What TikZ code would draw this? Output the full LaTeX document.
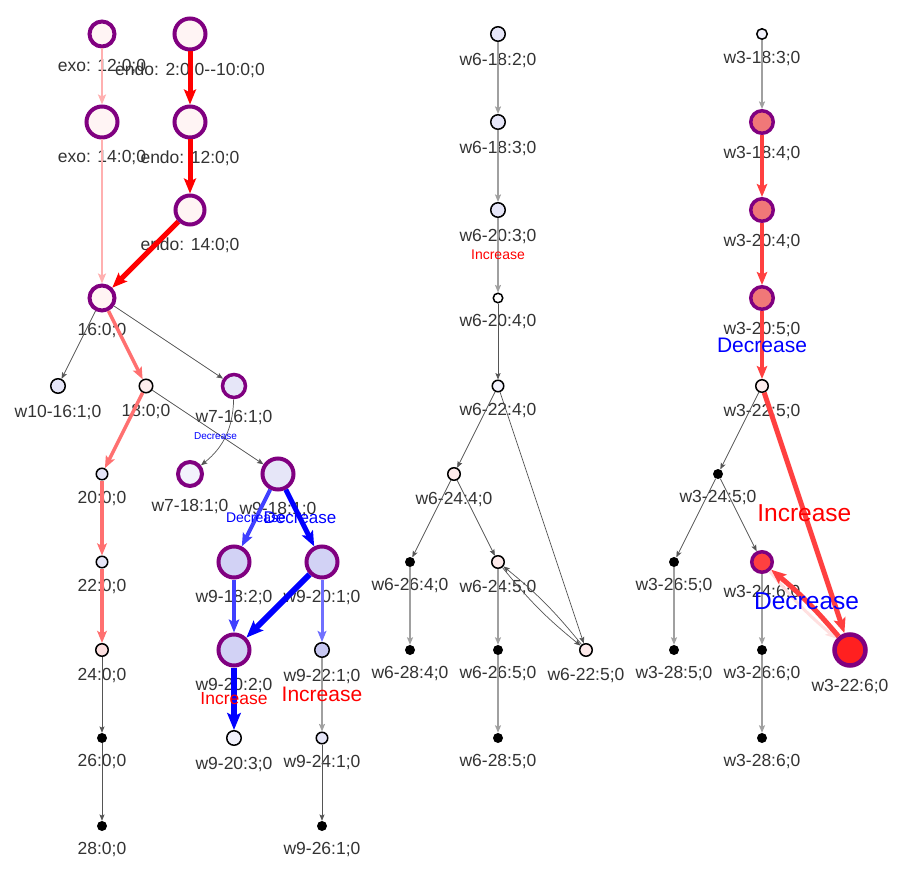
\documentclass[tikz,border=0pt]{standalone}
\usepackage{fontspec}
\setmainfont{Liberation Sans}
\usetikzlibrary{arrows.meta}
\definecolor{hubpurple}{HTML}{800080}
\definecolor{labelgray}{HTML}{333333}
\definecolor{linkgray}{HTML}{555555}
\definecolor{palegray}{HTML}{A0A0A0}
\definecolor{exopink}{HTML}{FFB0B0}
\definecolor{endored}{HTML}{FF0000}
\definecolor{trailred}{HTML}{FF7070}
\definecolor{wred}{HTML}{FF4040}
\definecolor{wfaint}{HTML}{FFE0E0}
\definecolor{blueA}{HTML}{0000FF}
\definecolor{blueB}{HTML}{4040FF}
\definecolor{blueC}{HTML}{7070FF}
\definecolor{pk0}{HTML}{FFF4F4}
\definecolor{pk1}{HTML}{FDEEEE}
\definecolor{pk2}{HTML}{FDE0E0}
\definecolor{pk3}{HTML}{FDEAEA}
\definecolor{lav0}{HTML}{F2F2FC}
\definecolor{lav1}{HTML}{E6E6F8}
\definecolor{lav2}{HTML}{D2D2F5}
\definecolor{lav3}{HTML}{C8C8F2}
\definecolor{salmon}{HTML}{F07878}
\definecolor{hotred}{HTML}{FF2020}
\tikzset{
  hub/.style={circle, draw=hubpurple, line width=4pt, inner sep=0pt, minimum size=#1},
  hub/.default=25pt,
  dot/.style={circle, draw=black, line width=1.5pt, inner sep=0pt, minimum size=#1},
  dot/.default=12pt,
  leaf/.style={circle, fill=black, inner sep=0pt, minimum size=10pt},
  link/.style={draw=linkgray, line width=0.7pt},
  palelink/.style={draw=palegray, line width=1.3pt},
  flow/.style 2 args={draw=#1, line width=#2},
  incr/.style={text=red, font=\fontsize{#1}{#1}\selectfont, inner sep=0pt},
  decr/.style={text=blue, font=\fontsize{#1}{#1}\selectfont, inner sep=0pt},
  every label/.style={text=labelgray, font=\fontsize{17.5pt}{20pt}\selectfont, inner sep=2pt},
}

\begin{document}
\begin{tikzpicture}[x=44pt, y=-88pt, ->, >={Stealth[length=5pt 2, width=4pt 1.6, inset=1pt 0.4]}, label distance=9pt]
    \useasboundingbox (-58pt,34pt) rectangle (842pt,-846pt);

    % exo / endo lineage
    \node[hub=25pt, fill=pk0, label={below:{exo: 12:0;0}}] (exoA) at (1,0) {};
    \node[hub=31pt, fill=pk0, label={below:{endo: 2:0;0-{}-10:0;0}}] (endoA) at (3,0) {};
    \node[hub=31pt, fill=pk0, label={below:{exo: 14:0;0}}] (exoB) at (1,1) {};
    \node[hub=31pt, fill=pk0, label={below:{endo: 12:0;0}}] (endoB) at (3,1) {};
    \node[hub=29pt, fill=pk0, label={below:{endo: 14:0;0}}] (endoC) at (3,2) {};
    \node[hub=25pt, fill=pk0, label={below:{16:0;0}}] (s16) at (1,3) {};
    \node[dot=14.5pt, fill=lav1, label={below:{w10-16:1;0}}] (w10a) at (0,4) {};
    \node[dot=13.5pt, fill=pk1, label={below:{18:0;0}}] (s18) at (2,4) {};
    \node[hub=23pt, line width=3.5pt, fill=lav1, label={below:{w7-16:1;0}}] (w7a) at (4,4) {};
    \node[dot=11.5pt, fill=lav1, label={below:{20:0;0}}] (s20) at (1,5) {};
    \node[hub=24pt, fill=lav0, label={below:{w7-18:1;0}}] (w7b) at (3,5) {};
    \node[hub=31pt, fill=lav1, label={below:{w9-18:1;0}}] (w9a) at (5,5) {};
    \node[dot=11.5pt, fill=lav1, label={below:{22:0;0}}] (s22) at (1,6) {};
    \node[hub=31pt, fill=lav2, label={below:{w9-18:2;0}}] (w9b) at (4,6) {};
    \node[hub=31pt, fill=lav2, label={below:{w9-20:1;0}}] (w9c) at (6,6) {};
    \node[dot=12.5pt, fill=pk2, label={below:{24:0;0}}] (s24) at (1,7) {};
    \node[hub=31pt, fill=lav2, label={below:{w9-20:2;0}}] (w9d) at (4,7) {};
    \node[dot=14.5pt, fill=lav3, label={below:{w9-22:1;0}}] (w9e) at (6,7) {};
    \node[leaf, label={below:{26:0;0}}] (s26) at (1,8) {};
    \node[dot=14.5pt, fill=lav0, label={below:{w9-20:3;0}}] (w9f) at (4,8) {};
    \node[dot=11.5pt, fill=lav1, label={below:{w9-24:1;0}}] (w9g) at (6,8) {};
    \node[leaf, label={below:{28:0;0}}] (s28) at (1,9) {};
    \node[leaf, label={below:{w9-26:1;0}}] (w9h) at (6,9) {};

    \draw[flow={exopink}{2.5pt}] (exoA) -- (exoB);
    \draw[flow={exopink}{2.5pt}] (exoB) -- (s16);
    \draw[flow={endored}{5pt}] (endoA) -- (endoB);
    \draw[flow={endored}{5pt}] (endoB) -- (endoC);
    \draw[flow={endored}{5pt}] (endoC) -- (s16);
    \draw[link] (s16) -- (w10a);
    \draw[link] (s16) -- (w7a);
    \draw[flow={trailred}{3.5pt}] (s16) -- (s18);
    \draw[flow={trailred}{3.5pt}] (s18) -- (s20);
    \draw[flow={trailred}{3.5pt}] (s20) -- (s22);
    \draw[flow={trailred}{3.5pt}] (s22) -- (s24);
    \draw[link] (s24) -- (s26);
    \draw[link] (s26) -- (s28);
    \draw[link] (s18) -- (w9a);
    \draw[link] (w7a) to[bend left=25] node[decr=10pt, xshift=-10pt] {Decrease} (w7b);
    \draw[flow={blueB}{4pt}] (w9a) -- node[decr=14pt] {Decrease} (w9b);
    \draw[flow={blueA}{5pt}] (w9a) -- node[decr=17pt] {Decrease} (w9c);
    \draw[flow={blueB}{4pt}] (w9b) -- (w9d);
    \draw[flow={blueA}{6pt}] (w9c) -- (w9d);
    \draw[flow={blueC}{3pt}] (w9c) -- (w9e);
    \draw[flow={blueA}{6pt}] (w9d) -- node[incr=17.5pt] {Increase} (w9f);
    \draw[palelink] (w9e) -- node[incr=21pt] {Increase} (w9g);
    \draw[link] (w9g) -- (w9h);

    % w6 lineage
    \node[dot=14.5pt, fill=lav1, label={below:{w6-18:2;0}}] (w6a) at (10,0) {};
    \node[dot=14.5pt, fill=lav1, label={below:{w6-18:3;0}}] (w6b) at (10,1) {};
    \node[dot=14.5pt, fill=lav1, label={below:{w6-20:3;0}}] (w6c) at (10,2) {};
    \node[dot=9.5pt, fill=white, label={below:{w6-20:4;0}}] (w6d) at (10,3) {};
    \node[dot=11.5pt, fill=lav0, label={below:{w6-22:4;0}}] (w6e) at (10,4) {};
    \node[dot=12.5pt, fill=pk3, label={below:{w6-24:4;0}}] (w6f) at (9,5) {};
    \node[leaf, label={below:{w6-26:4;0}}] (w6g) at (8,6) {};
    \node[dot=12.5pt, fill=pk3, label={below:{w6-24:5;0}}] (w6h) at (10,6) {};
    \node[leaf, label={below:{w6-28:4;0}}] (w6i) at (8,7) {};
    \node[leaf, label={below:{w6-26:5;0}}] (w6j) at (10,7) {};
    \node[dot=12.5pt, fill=pk3, label={below:{w6-22:5;0}}] (w6k) at (12,7) {};
    \node[leaf, label={below:{w6-28:5;0}}] (w6l) at (10,8) {};

    \draw[palelink] (w6a) -- (w6b);
    \draw[palelink] (w6b) -- (w6c);
    \draw[palelink] (w6c) -- node[incr=14pt] {Increase} (w6d);
    \draw[link] (w6d) -- (w6e);
    \draw[link] (w6e) -- (w6f);
    \draw[link] (w6e) -- (w6k);
    \draw[link] (w6f) -- (w6g);
    \draw[link] (w6f) -- (w6h);
    \draw[palelink] (w6g) -- (w6i);
    \draw[palelink] (w6h) -- (w6j);
    \draw[palelink] (w6j) -- (w6l);
    \draw[link] (w6h) to[bend right=6] (w6k);
    \draw[link] (w6k) to[bend right=6] (w6h);

    % w3 lineage
    \node[dot=10.5pt, fill=lav0, label={below:{w3-18:3;0}}] (w3a) at (16,0) {};
    \node[hub=22.5pt, line width=3.5pt, fill=salmon, label={below:{w3-18:4;0}}] (w3b) at (16,1) {};
    \node[hub=22.5pt, line width=3.5pt, fill=salmon, label={below:{w3-20:4;0}}] (w3c) at (16,2) {};
    \node[hub=22.5pt, line width=3.5pt, fill=salmon, label={below:{w3-20:5;0}}] (w3d) at (16,3) {};
    \node[dot=12.5pt, fill=pk1, label={below:{w3-22:5;0}}] (w3e) at (16,4) {};
    \node[leaf, label={below:{w3-24:5;0}}] (w3f) at (15,5) {};
    \node[leaf, label={below:{w3-26:5;0}}] (w3g) at (14,6) {};
    \node[hub=20.5pt, line width=3.5pt, fill=wred, label={below:{w3-24:6;0}}] (w3h) at (16,6) {};
    \node[leaf, label={below:{w3-28:5;0}}] (w3i) at (14,7) {};
    \node[leaf, label={below:{w3-26:6;0}}] (w3j) at (16,7) {};
    \node[hub=31pt, line width=4.5pt, fill=hotred, label={below:{w3-22:6;0}}] (w3k) at (18,7) {};
    \node[leaf, label={below:{w3-28:6;0}}] (w3l) at (16,8) {};

    \draw[palelink] (w3a) -- (w3b);
    \draw[flow={wred}{4pt}] (w3b) -- (w3c);
    \draw[flow={wred}{4pt}] (w3c) -- (w3d);
    \draw[flow={wred}{4pt}] (w3d) -- node[decr=21pt] {Decrease} (w3e);
    \draw[flow={wred}{5pt}] (w3e) -- node[incr=24.5pt] {Increase} (w3k);
    \draw[link] (w3e) -- (w3f);
    \draw[link] (w3f) -- (w3g);
    \draw[link] (w3f) -- (w3h);
    \draw[palelink] (w3g) -- (w3i);
    \draw[palelink] (w3h) -- (w3j);
    \draw[palelink] (w3j) -- (w3l);
    \draw[flow={wfaint}{3pt}] (w3h) to[bend right=5] (w3k);
    \draw[flow={wred}{5pt}] (w3k) to[bend right=5] node[decr=24.5pt] {Decrease} (w3h);
\end{tikzpicture}
\end{document}
